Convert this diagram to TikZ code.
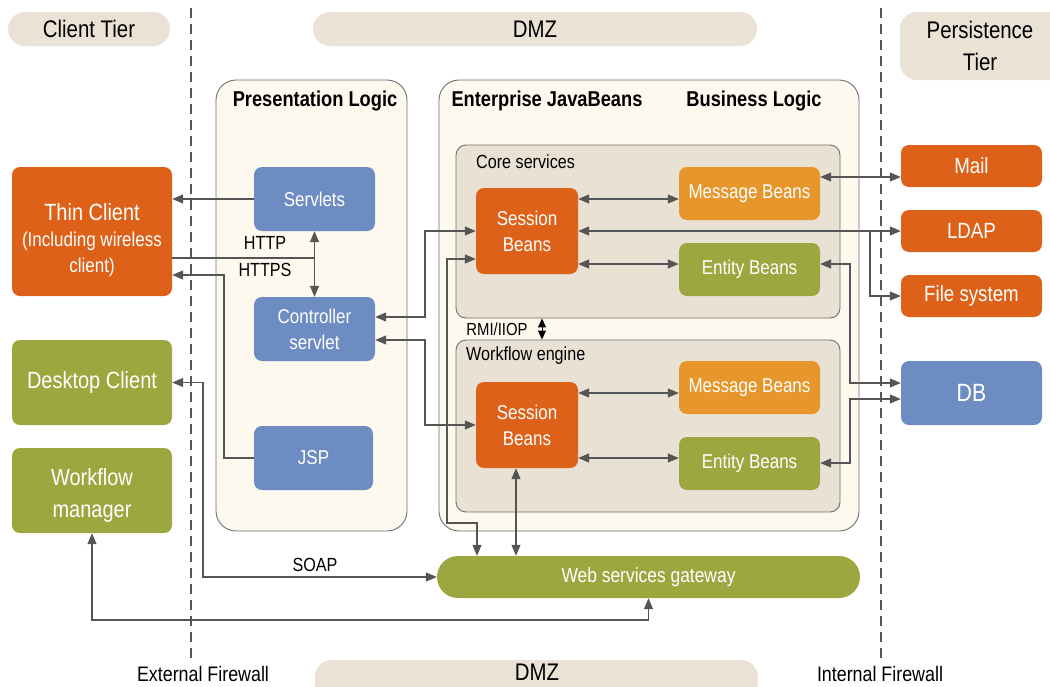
\documentclass[tikz,border=0pt]{standalone}
\usepackage{fontspec}
\setmainfont{Liberation Sans}[FakeStretch=0.85]
\usetikzlibrary{arrows.meta}
\definecolor{orng}{HTML}{DE6119}
\definecolor{lorng}{HTML}{E6962A}
\definecolor{grn}{HTML}{9CA73F}
\definecolor{blu}{HTML}{6D8CC1}
\definecolor{pill}{HTML}{EBE2D6}
\definecolor{cream}{HTML}{FDF9EF}
\definecolor{corefill}{HTML}{EAE1D5}
\definecolor{linegray}{HTML}{555555}
\definecolor{bordergray}{HTML}{6E6E6E}
\tikzset{
  box/.style={rounded corners=8pt, inner sep=0pt, text=white, align=center,
    font=\fontsize{20}{26}\selectfont},
  cbox/.style={box, font=\fontsize{23.5}{29}\selectfont},
  pbox/.style={box, font=\fontsize{22}{26}\selectfont},
  wtext/.style={inner sep=0pt, text=white, align=center},
  pillbox/.style={fill=pill, inner sep=0pt, align=center, text=black,
    font=\fontsize{24}{31}\selectfont},
  container/.style={fill=cream, draw=bordergray, line width=0.9pt, rounded corners=20pt, inner sep=0pt},
  group/.style={fill=corefill, draw=bordergray, line width=0.9pt, rounded corners=10pt, inner sep=0pt},
  lbl/.style={inner sep=0pt, text=black, font=\fontsize{19}{22}\selectfont},
  title/.style={inner sep=0pt, text=black, font=\bfseries\fontsize{21.5}{25}\selectfont},
  firewall/.style={draw=linegray, line width=2.4pt, dash pattern=on 10pt off 6pt},
  tip/.tip={Triangle[length=11pt,width=9pt]},
  conn/.style={draw=linegray, line width=1.2pt, -tip},
  both/.style={draw=linegray, line width=1.2pt, tip-tip},
  plain/.style={draw=linegray, line width=1.2pt},
}
\begin{document}
\begin{tikzpicture}[x=1pt, y=-1pt]
\useasboundingbox (0,0) rectangle (1050,686);

% header pills
\node[pillbox, rounded corners=17pt, minimum width=162pt, minimum height=34pt] (hclient) at (89,29) {Client Tier};
\node[pillbox, rounded corners=17pt, minimum width=444pt, minimum height=34pt] (hdmz) at (535,29) {DMZ};
\node[pillbox, rounded corners=17pt, minimum width=180pt, minimum height=68pt, text width=160pt] (hpers) at (990,46) {};
\node[lbl, font=\fontsize{24}{32}\selectfont, align=center] (hperst) at (980,46) {Persistence\\Tier};
\node[pillbox, rounded corners=17pt, minimum width=443pt, minimum height=40pt] (bdmzbg) at (536.5,680) {};
\node[lbl, font=\fontsize{24}{28}\selectfont] (bdmz) at (537,672) {DMZ};
\node[lbl, font=\fontsize{21}{25}\selectfont] (extfw) at (203,674) {External Firewall};
\node[lbl, font=\fontsize{21}{25}\selectfont] (intfw) at (880,674) {Internal Firewall};

% firewalls
\coordinate (ef1) at (191,8);
\coordinate (ef2) at (191,662);
\coordinate (if1) at (881,8);
\coordinate (if2) at (881,662);
\draw[firewall] (ef1) -- (ef2);
\draw[firewall] (if1) -- (if2);

% containers
\node[container, minimum width=191pt, minimum height=451pt] (pres) at (311.5,305.5) {};
\node[title] (prest) at (315,101) {Presentation Logic};
\node[container, minimum width=420pt, minimum height=451pt] (ejb) at (649,305.5) {};
\node[title] (ejbt) at (547,101) {Enterprise JavaBeans};
\node[title] (bizt) at (754,101) {Business Logic};
\node[group, minimum width=384pt, minimum height=173pt] (core) at (648,231.5) {};
\node[lbl, anchor=west] (coret) at (476,162) {Core services};
\node[group, minimum width=384pt, minimum height=172pt] (wfe) at (648,426) {};
\node[lbl, anchor=west] (wfet) at (466,356) {Workflow engine};

% client tier
\node[cbox, fill=orng, minimum width=160pt, minimum height=129pt] (thin) at (92,231.5) {};
\node[wtext, font=\fontsize{20}{26}\selectfont] (thintext) at (92,240)
  {{\fontsize{23.5}{29}\selectfont Thin Client}\\(Including wireless\\client)};
\node[cbox, fill=grn, minimum width=160pt, minimum height=85pt] (desk) at (92,382.5) {Desktop Client};
\node[cbox, fill=grn, minimum width=160pt, minimum height=85pt] (wfm) at (92,490.5) {};
\node[wtext, font=\fontsize{23.5}{32}\selectfont] (wfmtext) at (92,495) {Workflow\\manager};

% presentation
\node[box, fill=blu, minimum width=121pt, minimum height=64pt] (servlets) at (314.5,199) {Servlets};
\node[box, fill=blu, minimum width=121pt, minimum height=64pt] (ctrl) at (314.5,329) {Controller\\servlet};
\node[box, fill=blu, minimum width=119pt, minimum height=64pt] (jsp) at (313.5,458) {JSP};

% EJB
\node[box, fill=orng, minimum width=102pt, minimum height=86pt] (sb1) at (527,231) {Session\\Beans};
\node[box, fill=lorng, minimum width=141pt, minimum height=53pt] (mb1) at (749.5,193.5) {Message Beans};
\node[box, fill=grn, minimum width=141pt, minimum height=53pt] (eb1) at (749.5,269.5) {Entity Beans};
\node[box, fill=orng, minimum width=102pt, minimum height=86pt] (sb2) at (527,425) {Session\\Beans};
\node[box, fill=lorng, minimum width=141pt, minimum height=53pt] (mb2) at (749.5,387.5) {Message Beans};
\node[box, fill=grn, minimum width=141pt, minimum height=53pt] (eb2) at (749.5,463.5) {Entity Beans};

% persistence
\node[pbox, fill=orng, minimum width=141pt, minimum height=42pt] (mail) at (971.5,166) {Mail};
\node[pbox, fill=orng, minimum width=141pt, minimum height=42pt] (ldap) at (971.5,231) {LDAP};
\node[pbox, fill=orng, minimum width=141pt, minimum height=42pt] (fs) at (971.5,296) {File system};
\node[pbox, fill=blu, minimum width=141pt, minimum height=64pt, font=\fontsize{25}{30}\selectfont] (db) at (971.5,393) {DB};

% gateway
\node[box, fill=grn, rounded corners=21pt, minimum width=423pt, minimum height=42pt, font=\fontsize{20.5}{25}\selectfont] (ws) at (648.5,577) {Web services gateway};

% labels
\node[lbl] (http) at (265,243) {HTTP};
\node[lbl] (https) at (265,270) {HTTPS};
\node[lbl, font=\fontsize{17.5}{20}\selectfont] (rmi) at (497,329) {RMI/IIOP};
\node[lbl] (soap) at (315,565) {SOAP};

% connectors: client / presentation
\draw[conn] (servlets.west) -- (thin.east |- servlets.west);
\draw[plain] (thin.east |- 0,258) -- (servlets.south |- 0,258);
\draw[both] (servlets.south) -- (ctrl.north);
\draw[conn] (jsp.west) -| (224,275) -- (thin.east |- 0,275);
\draw[both] (desk.east) -| (203,577) -- (ws.west);
\draw[both] (wfm.south) |- (ws.south |- 0,620) -- (ws.south);

% presentation / EJB
\draw[both] (sb1.west) -| (425,317) -- (ctrl.east |- 0,317);
\draw[both] (ctrl.east |- 0,340) -| (425,425) -- (sb2.west);
\draw[both] (sb1.west |- 0,259) -| (447,523) -| (ws.north -| 477,0);
\draw[both] (sb2.south -| 516,0) -- (ws.north -| 516,0);
\draw[draw=black, line width=1pt, {Triangle[length=9pt,width=8pt]}-{Triangle[length=9pt,width=8pt]}] (core.south -| 542,0) -- (wfe.north -| 542,0);

% inside EJB
\draw[both] (sb1.east |- 0,199) -- (mb1.west |- 0,199);
\draw[both] (sb1.east |- 0,264) -- (eb1.west |- 0,264);
\draw[both] (sb2.east |- 0,393) -- (mb2.west |- 0,393);
\draw[both] (sb2.east |- 0,458) -- (eb2.west |- 0,458);

% EJB / persistence
\draw[both] (mb1.east |- 0,177) -- (mail.west |- 0,177);
\draw[both] (sb1.east) -- (ldap.west);
\coordinate (br) at (870,231);
\draw[conn] (br) |- (fs.west);
\draw[both] (eb1.east |- 0,264) -| (850,383) -- (db.west |- 0,383);
\draw[both] (eb2.east |- 0,463) -| (850,399) -- (db.west |- 0,399);
\end{tikzpicture}
\end{document}
